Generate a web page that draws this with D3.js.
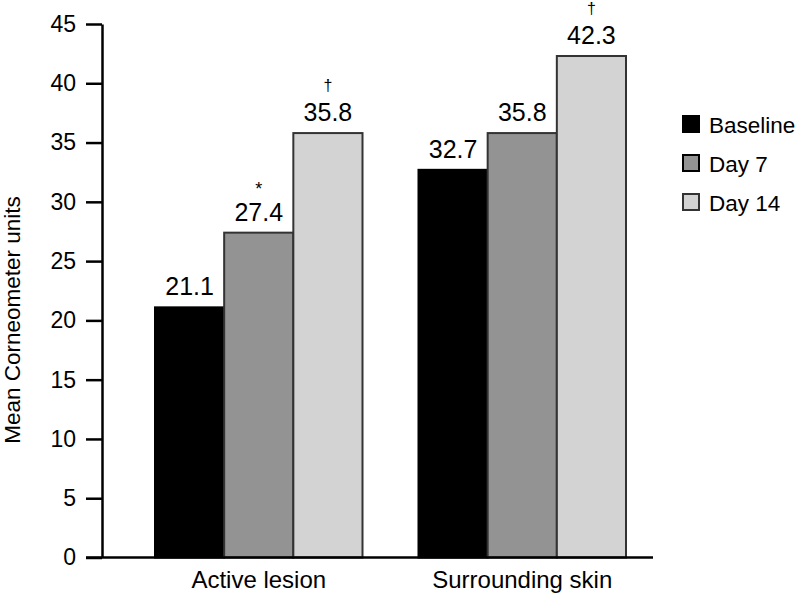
<!DOCTYPE html>
<html>
<head>
<meta charset="utf-8">
<script src="https://cdn.jsdelivr.net/npm/d3@7"></script>
<style>
  html, body { margin: 0; padding: 0; background: #fff; }
  svg { display: block; font-family: "Liberation Sans", Arial, Helvetica, sans-serif; }
</style>
</head>
<body>
<svg id="chart" width="800" height="595"></svg>
<script>
// ---- data ----
const categories = ["Active lesion", "Surrounding skin"];
const seriesNames = ["Baseline", "Day 7", "Day 14"];
const baselineValues = [21.1, 32.7];
const day7Values = [27.4, 35.8];
const day14Values = [35.8, 42.3];
const markers = {               // significance symbols above bars
  "Day 7": ["*", ""],
  "Day 14": ["\u2020", "\u2020"]
};
const yTicks = [0, 5, 10, 15, 20, 25, 30, 35, 40, 45];

const seriesValues = [baselineValues, day7Values, day14Values];
const fills = ["#000000", "#939393", "#d3d3d3"];
const strokes = ["#000000", "#333333", "#333333"];

// ---- layout ----
const svg = d3.select("#chart");
const axisX = 102, axisRight = 653;
const yTop = 24, yBottom = 557.5;

const y = d3.scaleLinear().domain([0, 45]).range([yBottom, yTop]);
const x0 = d3.scaleBand().domain(categories).range([155, 626]).paddingInner(0.2125).paddingOuter(0);
const x1 = d3.scaleBand().domain(seriesNames).range([0, x0.bandwidth()]).padding(0);

// bars
const g = svg.append("g");
categories.forEach((cat, ci) => {
  seriesNames.forEach((s, si) => {
    const v = seriesValues[si][ci];
    const bx = x0(cat) + x1(s);
    g.append("rect")
      .attr("x", bx)
      .attr("y", y(v))
      .attr("width", x1.bandwidth())
      .attr("height", y(0) - y(v))
      .attr("fill", fills[si])
      .attr("stroke", strokes[si])
      .attr("stroke-width", 2);
    g.append("text")
      .attr("x", bx + x1.bandwidth() / 2)
      .attr("y", y(v) - 12)
      .attr("text-anchor", "middle")
      .attr("font-size", 25)
      .attr("fill", "#000")
      .text(v.toFixed(1));
    const m = markers[s] ? markers[s][ci] : "";
    if (m) {
      g.append("text")
        .attr("x", bx + x1.bandwidth() / 2)
        .attr("y", m === "*" ? y(v) - 38 : y(v) - 42)
        .attr("text-anchor", "middle")
        .attr("font-size", m === "*" ? 18 : 16)
        .attr("fill", "#000")
        .text(m);
    }
  });
});

// y axis
const yAxis = d3.axisLeft(y).tickValues(yTicks).tickSize(16).tickPadding(10).tickSizeOuter(0);
const ya = svg.append("g").attr("transform", `translate(${axisX},0)`).call(yAxis);
ya.select(".domain").attr("stroke", "#000").attr("stroke-width", 2.5);
ya.selectAll(".tick line").attr("stroke", "#000").attr("stroke-width", 2.5);
ya.selectAll(".tick text").attr("font-size", 23).attr("fill", "#000")
  .attr("font-family", "Liberation Sans, Arial, sans-serif");

// x axis line
svg.append("line")
  .attr("x1", axisX - 16).attr("x2", axisRight)
  .attr("y1", y(0)).attr("y2", y(0))
  .attr("stroke", "#000").attr("stroke-width", 2.5);

// category labels
svg.selectAll(".cat").data(categories).enter().append("text")
  .attr("x", d => x0(d) + x0.bandwidth() / 2)
  .attr("y", 588)
  .attr("text-anchor", "middle")
  .attr("font-size", 24)
  .attr("fill", "#000")
  .text(d => d);

// y title
svg.append("text")
  .attr("transform", "translate(20,320) rotate(-90)")
  .attr("text-anchor", "middle")
  .attr("font-size", 22.5)
  .attr("fill", "#000")
  .text("Mean Corneometer units");

// legend
const leg = svg.append("g").attr("transform", "translate(682,115)");
seriesNames.forEach((s, i) => {
  leg.append("rect")
    .attr("x", 1).attr("y", i * 39 + 1)
    .attr("width", 16).attr("height", 16)
    .attr("fill", fills[i])
    .attr("stroke", i === 1 ? "#000" : strokes[i])
    .attr("stroke-width", 2);
  leg.append("text")
    .attr("x", 27).attr("y", i * 39 + 18)
    .attr("font-size", 22.5)
    .attr("fill", "#000")
    .text(s);
});
</script>
</body>
</html>
